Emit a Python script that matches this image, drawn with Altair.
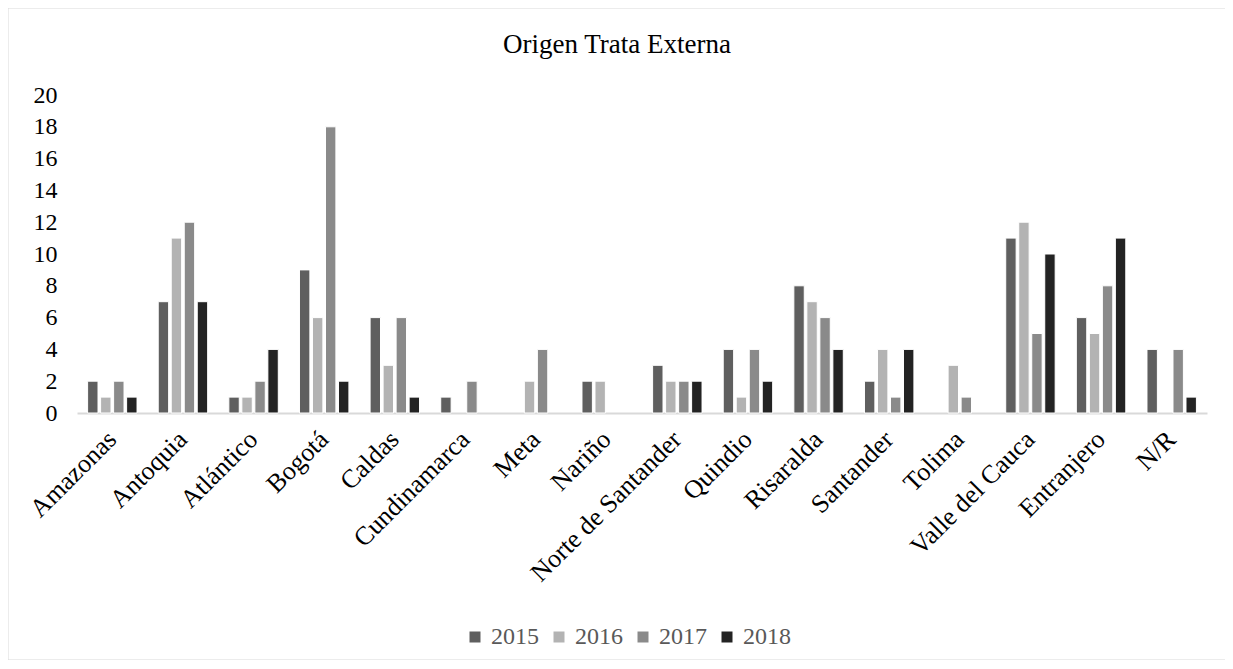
import altair as alt
import pandas as pd

categories = ["Amazonas", "Antoquia", "Atlántico", "Bogotá", "Caldas", "Cundinamarca",
              "Meta", "Nariño", "Norte de Santander", "Quindio", "Risaralda", "Santander",
              "Tolima", "Valle del Cauca", "Entranjero", "N/R"]
years = ["2015", "2016", "2017", "2018"]
v2015 = [2, 7, 1, 9, 6, 1, 0, 2, 3, 4, 8, 2, 0, 11, 6, 4]
v2016 = [1, 11, 1, 6, 3, 0, 2, 2, 2, 1, 7, 4, 3, 12, 5, 0]
v2017 = [2, 12, 2, 18, 6, 2, 4, 0, 2, 4, 6, 1, 1, 5, 8, 4]
v2018 = [1, 7, 4, 2, 1, 0, 0, 0, 2, 2, 4, 4, 0, 10, 11, 1]
colors = ["#5f5f5f", "#b3b3b3", "#8a8a8a", "#232323"]

rows = []
for y, vals in zip(years, [v2015, v2016, v2017, v2018]):
    for c, v in zip(categories, vals):
        rows.append({"cat": c, "year": y, "value": v})
df = pd.DataFrame(rows)

FONT = "Liberation Serif"
W, H = 1130, 318

bars = alt.Chart(df).mark_bar(stroke="white", strokeWidth=1).encode(
    x=alt.X("cat:N", sort=categories, title=None,
            scale=alt.Scale(domain=categories, paddingInner=0.3, paddingOuter=0.15),
            axis=alt.Axis(labelAngle=-45, labelAlign="right", labelBaseline="middle",
                          labelFontSize=26, labelFont=FONT, labelColor="#000000",
                          ticks=False, domainColor="#d9d9d9", domainWidth=2,
                          labelPadding=22, labelLimit=400)),
    xOffset=alt.XOffset("year:N", sort=years, scale=alt.Scale(domain=years, paddingInner=0.2)),
    y=alt.Y("value:Q", title=None,
            scale=alt.Scale(domain=[0, 20], nice=False),
            axis=alt.Axis(values=list(range(0, 21, 2)), grid=False, domain=False, ticks=False,
                          labelFontSize=24, labelFont=FONT, labelColor="#000000",
                          labelPadding=20)),
    color=alt.Color("year:N", sort=years, title=None,
                    scale=alt.Scale(domain=years, range=colors),
                    legend=alt.Legend(orient="none", direction="horizontal",
                                      legendX=386, legendY=530,
                                      symbolType="square", symbolSize=121,
                                      symbolStrokeWidth=0,
                                      labelFont=FONT, labelFontSize=24, labelColor="#595959",
                                      columnPadding=8, labelOffset=4)),
).transform_filter("datum.value > 0")

frame = alt.Chart(pd.DataFrame({"a": [0]})).mark_rect(
    fill=None, stroke="#d9d9d9", strokeWidth=1, clip=False
).encode(
    x=alt.value(-69), x2=alt.value(W + 148), y=alt.value(-87), y2=alt.value(H + 247)
)

chart = alt.layer(bars, frame).properties(
    width=W, height=H,
    title=alt.TitleParams("Origen Trata Externa", font=FONT, fontSize=27,
                          fontWeight="normal", color="#000000", anchor="middle",
                          dx=-25, offset=-51),
    autosize=alt.AutoSizeParams(type="none"),
    padding={"left": 69, "top": 87, "right": 18, "bottom": 247},
).configure_view(stroke=None)

chart.save("out.html", embed_options={"renderer": "svg", "actions": False})
